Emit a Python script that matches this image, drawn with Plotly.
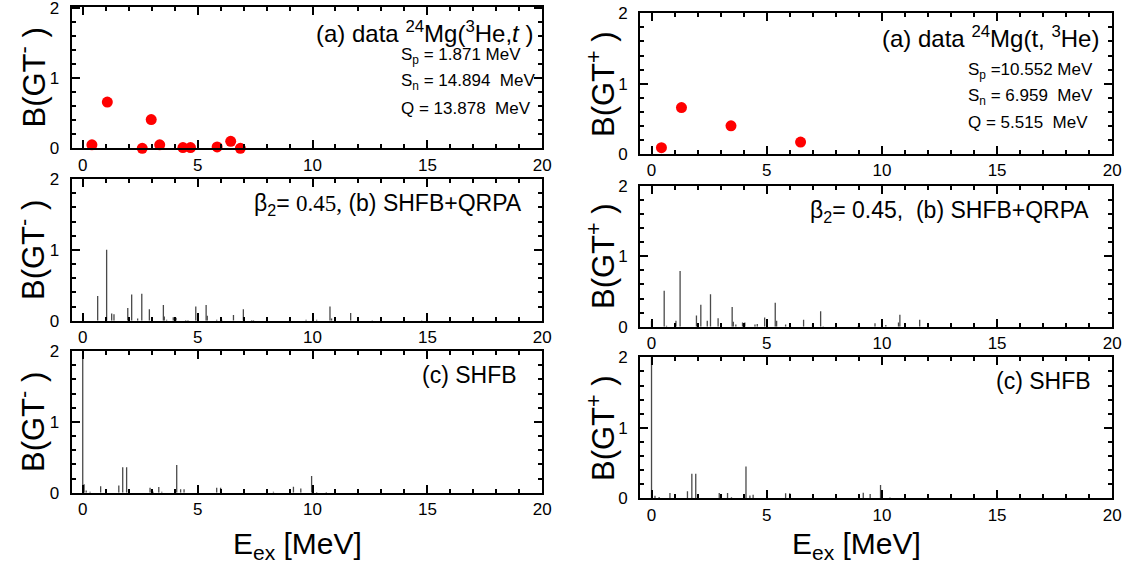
import plotly.graph_objects as go

W, H = 1130, 567
FONT = "Liberation Sans, Arial, sans-serif"

# ---------------- data ----------------
data_minus_E = [0.40, 1.07, 2.59, 2.98, 3.35, 4.36, 4.69, 5.85, 6.44, 6.86]
data_minus_B = [0.05, 0.66, 0.00, 0.41, 0.05, 0.01, 0.01, 0.02, 0.10, 0.00]

data_plus_E = [0.43, 1.30, 3.45, 6.47]
data_plus_B = [0.09, 0.66, 0.40, 0.17]

qrpa_minus_E = [0.00, 0.65, 1.04, 1.26, 1.36, 1.96, 2.03, 2.13, 2.39, 2.57, 2.90, 3.51, 3.55, 3.65,
                3.94, 4.06, 4.48, 4.58, 4.92, 5.37, 5.42, 5.83, 6.05, 6.56, 6.99, 7.03, 7.35, 7.43,
                9.00, 9.72, 10.18, 10.76, 10.83, 11.66, 12.60, 14.75]
qrpa_minus_B = [0.07, 0.35, 1.00, 0.10, 0.09, 0.18, 0.03, 0.37, 0.03, 0.38, 0.16, 0.22, 0.06, 0.015,
                0.05, 0.04, 0.01, 0.01, 0.20, 0.22, 0.07, 0.015, 0.015, 0.08, 0.16, 0.03, 0.01, 0.01,
                0.01, 0.015, 0.015, 0.20, 0.03, 0.11, 0.005, 0.005]

qrpa_plus_E = [0.00, 0.55, 0.65, 1.06, 1.24, 1.95, 2.01, 2.14, 2.42, 2.56, 2.89, 3.50, 3.55, 3.66,
               3.95, 4.05, 4.49, 4.59, 4.91, 5.37, 5.43, 5.82, 6.03, 6.60, 6.99, 7.34, 7.45,
               8.97, 9.70, 10.17, 10.72, 10.78, 11.64]
qrpa_plus_B = [0.08, 0.51, 0.015, 0.085, 0.79, 0.16, 0.03, 0.31, 0.085, 0.46, 0.12, 0.28, 0.07, 0.03,
               0.06, 0.06, 0.03, 0.04, 0.13, 0.34, 0.085, 0.03, 0.015, 0.10, 0.03, 0.22, 0.005,
               0.01, 0.05, 0.025, 0.06, 0.17, 0.10]

shfb_minus_E = [0.00, 0.06, 0.15, 0.32, 0.78, 1.57, 1.74, 1.91, 2.93, 3.07, 3.31, 3.44, 4.09, 4.26,
                4.41, 5.83, 6.00, 8.30, 9.17, 9.49, 9.96, 10.18, 10.60]
shfb_minus_B = [2.50, 0.12, 0.03, 0.015, 0.09, 0.10, 0.36, 0.36, 0.07, 0.015, 0.08, 0.015, 0.39, 0.05,
                0.05, 0.07, 0.07, 0.015, 0.085, 0.06, 0.235, 0.01, 0.01]

shfb_plus_E = [0.00, 0.15, 0.33, 0.80, 1.56, 1.75, 1.92, 2.94, 3.30, 3.47, 4.10, 4.27, 4.41, 5.82,
               6.00, 9.19, 9.49, 9.94, 10.35]
shfb_plus_B = [2.50, 0.035, 0.02, 0.075, 0.10, 0.35, 0.35, 0.075, 0.075, 0.015, 0.45, 0.04, 0.05,
               0.07, 0.07, 0.08, 0.06, 0.19, 0.01]

x_ticks = [0, 5, 10, 15, 20]
y_ticks = [0, 1, 2]

# ---------------- helpers ----------------
def sticks(E, B):
    xs, ys = [], []
    for e, b in zip(E, B):
        xs += [e, e, None]
        ys += [0, b, None]
    return xs, ys

def px_x(p):
    return p / W

def px_y(p):
    return 1 - p / H

fig = go.Figure()

# panel: (x domain px, y domain px (top,bottom), x range, y range)
panels = {
    1: ((71.7, 542.3), (6.7, 148.3), [-0.48, 20], [0, 2.02]),
    2: ((640.0, 1112.3), (13.3, 154.0), [-0.5, 20], [0, 2.0]),
    3: ((71.7, 542.3), (179.0, 320.7), [-0.48, 20], [0, 2.0]),
    4: ((640.0, 1112.3), (185.7, 326.7), [-0.5, 20], [0, 2.0]),
    5: ((71.7, 542.3), (351.0, 492.7), [-0.48, 20], [0, 2.0]),
    6: ((640.0, 1112.3), (357.3, 498.3), [-0.5, 20], [0, 2.0]),
}

BAR_COLOR = "#4a4a4a"

def add_sticks(E, B, i):
    xs, ys = sticks(E, B)
    fig.add_trace(go.Scatter(x=xs, y=ys, mode="lines",
                             line=dict(color=BAR_COLOR, width=1.3),
                             xaxis=f"x{i}", yaxis=f"y{i}", showlegend=False,
                             hoverinfo="skip"))

fig.add_trace(go.Scatter(x=data_minus_E, y=data_minus_B, mode="markers",
                         marker=dict(color="#ff0000", size=11),
                         cliponaxis=False, xaxis="x1", yaxis="y1", showlegend=False))
fig.add_trace(go.Scatter(x=data_plus_E, y=data_plus_B, mode="markers",
                         marker=dict(color="#ff0000", size=11),
                         cliponaxis=False, xaxis="x2", yaxis="y2", showlegend=False))
add_sticks(qrpa_minus_E, qrpa_minus_B, 3)
add_sticks(qrpa_plus_E, qrpa_plus_B, 4)
add_sticks(shfb_minus_E, shfb_minus_B, 5)
add_sticks(shfb_plus_E, shfb_plus_B, 6)

layout = dict(
    template="none",
    width=W, height=H,
    margin=dict(l=0, r=0, t=0, b=0, pad=0, autoexpand=False),
    paper_bgcolor="white", plot_bgcolor="white",
    font=dict(family=FONT, color="black"),
    showlegend=False,
)

for i, (xd, yd, xr, yr) in panels.items():
    xname = "xaxis" if i == 1 else f"xaxis{i}"
    yname = "yaxis" if i == 1 else f"yaxis{i}"
    layout[xname] = dict(
        domain=[px_x(xd[0]), px_x(xd[1])], range=xr, anchor=f"y{i}",
        automargin=False, ticklabeloverflow="allow",
        tickvals=x_ticks, ticktext=[str(v) for v in x_ticks],
        ticks="inside", ticklen=8, tickwidth=1.5, tickcolor="black",
        minor=dict(ticks="inside", ticklen=4, tickwidth=1.5, dtick=1, tick0=0, tickcolor="black",
                   showgrid=False),
        showline=True, linewidth=2, linecolor="black", mirror="ticks",
        showgrid=False, zeroline=False,
        tickfont=dict(size=17, family=FONT, color="black"),
    )
    layout[yname] = dict(
        domain=[px_y(yd[1]), px_y(yd[0])], range=yr, anchor=f"x{i}",
        automargin=False, ticklabeloverflow="allow",
        tickvals=y_ticks, ticktext=[str(v) for v in y_ticks],
        ticks="inside", ticklen=8, tickwidth=1.5, tickcolor="black",
        minor=dict(ticks="inside", ticklen=4, tickwidth=1.5, dtick=0.2, tick0=0, tickcolor="black",
                   showgrid=False),
        showline=True, linewidth=2, linecolor="black", mirror="ticks",
        showgrid=False, zeroline=False,
        tickfont=dict(size=17, family=FONT, color="black"),
        ticklabelstandoff=7,
    )

fig.update_layout(**layout)

ann = []

def text(px, py, s, size, xanchor="left", angle=0):
    ann.append(dict(x=px_x(px), y=px_y(py), xref="paper", yref="paper", text=s,
                    showarrow=False, xanchor=xanchor, yanchor="middle",
                    font=dict(size=size, family=FONT, color="black"), textangle=angle))

# top-left
text(535, 32, "(a) data <sup>24</sup>Mg(<sup>3</sup>He,<i>t</i> )", 24, "right")
text(399, 56, "S<sub>p</sub> = 1.871 MeV", 17)
text(399, 82, "S<sub>n</sub> = 14.894  MeV", 17)
text(399, 108, "Q = 13.878  MeV", 17)
# top-right
text(1101, 37, "(a) data <sup>24</sup>Mg(t, <sup>3</sup>He)", 24, "right")
text(966, 71, "S<sub>p</sub> =10.552 MeV", 17)
text(966, 97, "S<sub>n</sub> = 6.959  MeV", 17)
text(966, 122, "Q = 5.515  MeV", 17)
# middle
text(524, 204, "β<sub>2</sub>= <span style=\"font-family:'Liberation Serif',serif\">0.45,</span> (b) SHFB+QRPA", 23, "right")
text(1091, 211, "β<sub>2</sub>= 0.45,  (b) SHFB+QRPA", 23, "right")
# bottom
text(519, 375, "(c) SHFB", 23, "right")
text(1093, 381, "(c) SHFB", 23, "right")

# y axis titles
for (cx, cy, sign) in [(31, 77.5, "-"), (31, 250, "-"), (31, 422, "-"),
                       (601, 84, "+"), (601, 256, "+"), (601, 428, "+")]:
    text(cx, cy, f"B(GT<sup>{sign}</sup> )", 31, "center", -90)

# x axis titles
text(297, 545, "E<sub>ex</sub> [MeV]", 30, "center")
text(856, 545, "E<sub>ex</sub> [MeV]", 30, "center")

fig.update_layout(annotations=ann)

fig.write_html(
    "out.html",
    config={"displayModeBar": False},
    post_script="document.body.style.margin='0';document.body.style.overflow='hidden';",
)
